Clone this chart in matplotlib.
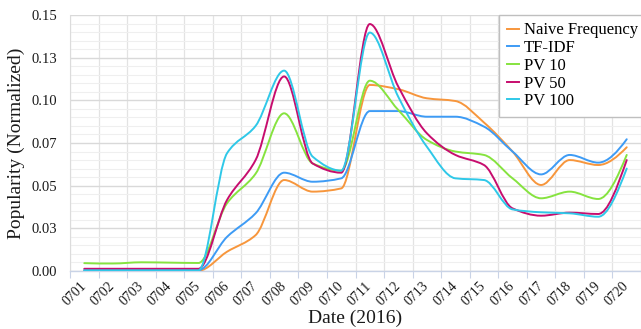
import matplotlib
matplotlib.use("Agg")
import matplotlib.pyplot as plt
import numpy as np
from matplotlib.path import Path
from matplotlib.patches import PathPatch
from matplotlib.lines import Line2D

plt.rcParams["font.family"] = ["Liberation Serif", "DejaVu Serif"]

dates = ["0701", "0702", "0703", "0704", "0705", "0706", "0707", "0708", "0709", "0710",
         "0711", "0712", "0713", "0714", "0715", "0716", "0717", "0718", "0719", "0720"]

naive_freq = [0.0002, 0.0002, 0.0002, 0.0002, 0.0002, 0.0113, 0.0210, 0.0533, 0.0465, 0.0484,
              0.1090, 0.1065, 0.1012, 0.0996, 0.0870, 0.0700, 0.0504, 0.0650, 0.0621, 0.0725]
tf_idf = [0.0005, 0.0005, 0.0005, 0.0005, 0.0005, 0.0200, 0.0338, 0.0576, 0.0523, 0.0543,
          0.0937, 0.0937, 0.0904, 0.0904, 0.0846, 0.0700, 0.0566, 0.0680, 0.0635, 0.0772]
pv_10 = [0.0046, 0.0044, 0.0051, 0.0049, 0.0047, 0.0397, 0.0570, 0.0924, 0.0630, 0.0588,
         0.1115, 0.0943, 0.0768, 0.0700, 0.0680, 0.0543, 0.0426, 0.0465, 0.0422, 0.0680]
pv_50 = [0.0013, 0.0013, 0.0013, 0.0013, 0.0013, 0.0416, 0.0650, 0.1140, 0.0630, 0.0576,
         0.1447, 0.1080, 0.0807, 0.0680, 0.0621, 0.0367, 0.0324, 0.0342, 0.0334, 0.0650]
pv_100 = [0.0004, 0.0004, 0.0004, 0.0004, 0.0004, 0.0690, 0.0850, 0.1174, 0.0670, 0.0588,
          0.1397, 0.1020, 0.0728, 0.0543, 0.0533, 0.0361, 0.0344, 0.0338, 0.0318, 0.0600]

series_names = ["Naive Frequency", "TF-IDF", "PV 10", "PV 50", "PV 100"]
series_values = [naive_freq, tf_idf, pv_10, pv_50, pv_100]
series_colors = ["#F7963C", "#3D9BF5", "#86E33F", "#C70D6E", "#2FC8E8"]

y_ticks = [0.0, 0.025, 0.05, 0.075, 0.1, 0.125, 0.15]
y_tick_labels = ["0.00", "0.03", "0.05", "0.07", "0.10", "0.13", "0.15"]


def tangents(ys):
    # monotone (fritsch-carlson) slopes, unit spacing
    y = np.asarray(ys, float)
    d = np.diff(y)
    m = np.zeros_like(y)
    for k in range(1, len(y) - 1):
        if d[k - 1] * d[k] > 0:
            m[k] = 2.0 / (1.0 / d[k - 1] + 1.0 / d[k])
    for k, d0, d1 in [(0, d[0], d[1]), (-1, d[-1], d[-2])]:
        e = (3 * d0 - d1) / 2
        if np.sign(e) != np.sign(d0):
            e = 0.0
        elif np.sign(d0) != np.sign(d1) and abs(e) > abs(3 * d0):
            e = 3 * d0
        m[k] = e
    return m


def smooth_path(xs, ys):
    x = np.asarray(xs, float)
    y = np.asarray(ys, float)
    m = tangents(y)
    verts = [(x[0], y[0])]
    for k in range(len(x) - 1):
        verts += [(x[k] + 1 / 3, y[k] + m[k] / 3),
                  (x[k + 1] - 1 / 3, y[k + 1] - m[k + 1] / 3),
                  (x[k + 1], y[k + 1])]
    codes = [Path.MOVETO] + [Path.CURVE4] * (3 * (len(x) - 1))
    return Path(verts, codes)


W, H = 641, 329
fig = plt.figure(figsize=(W / 100, H / 100), dpi=100)
ax_l, ax_b, ax_w, ax_h = 70, 58, 571, 256
ax = fig.add_axes([ax_l / W, ax_b / H, ax_w / W, ax_h / H])

cat_w = 28.65
x = np.arange(len(dates))
ax.set_xlim(-0.5, -0.5 + ax_w / cat_w)
ax.set_ylim(0, 0.15)

for vals, col in zip(series_values, series_colors):
    ax.add_patch(PathPatch(smooth_path(x, vals), fill=False, edgecolor=col, lw=1.4,
                           capstyle="round", joinstyle="round", zorder=3))

ax.set_yticks(y_ticks)
ax.set_yticklabels(y_tick_labels)
ax.set_yticks(np.arange(0, 0.1501, 0.005), minor=True)
ax.set_xticks(x)
ax.set_xticklabels(dates, rotation=45, ha="right", va="center", rotation_mode="anchor")
ax.set_xticks(np.arange(-0.5, len(dates), 1.0), minor=True)

ax.tick_params(axis="both", which="major", length=0, colors="#1a1a1a")
ax.tick_params(axis="y", which="major", pad=9.5, labelsize=10.5)
ax.tick_params(axis="x", which="major", pad=9.5, labelsize=10)
ax.tick_params(axis="y", which="minor", length=0)
ax.tick_params(axis="x", which="minor", length=5, width=0.8, color="#c9d3e6")

ax.grid(axis="y", which="major", color="#d9d9d9", lw=1.0, zorder=0)
ax.grid(axis="y", which="minor", color="#efefef", lw=0.8, zorder=0)
ax.grid(axis="x", which="minor", color="#e3e3e3", lw=0.9, zorder=0)
ax.set_axisbelow(True)

for side in ["top", "right"]:
    ax.spines[side].set_visible(False)
ax.spines["left"].set_color("#dcdcdc")
ax.spines["bottom"].set_color("#c9d3e6")
ax.spines["bottom"].set_linewidth(1.0)

ax.set_ylabel("Popularity (Normalized)", fontsize=14, labelpad=4, color="#1a1a1a")
ax.set_xlabel("Date (2016)", fontsize=14, labelpad=1, color="#1a1a1a")

handles = [Line2D([], [], color=c, lw=1.4) for c in series_colors]
leg = ax.legend(handles, series_names, loc="upper left",
                bbox_to_anchor=(499 / W, (H - 15) / H), bbox_transform=fig.transFigure,
                borderaxespad=0, fancybox=False, edgecolor="#bfbfbf", framealpha=1,
                fontsize=12, handlelength=0.75, handletextpad=0.3, borderpad=0.45,
                labelspacing=0.1)
leg.get_frame().set_linewidth(1.0)
leg.set_zorder(5)

fig.savefig("out.png", dpi=100)
